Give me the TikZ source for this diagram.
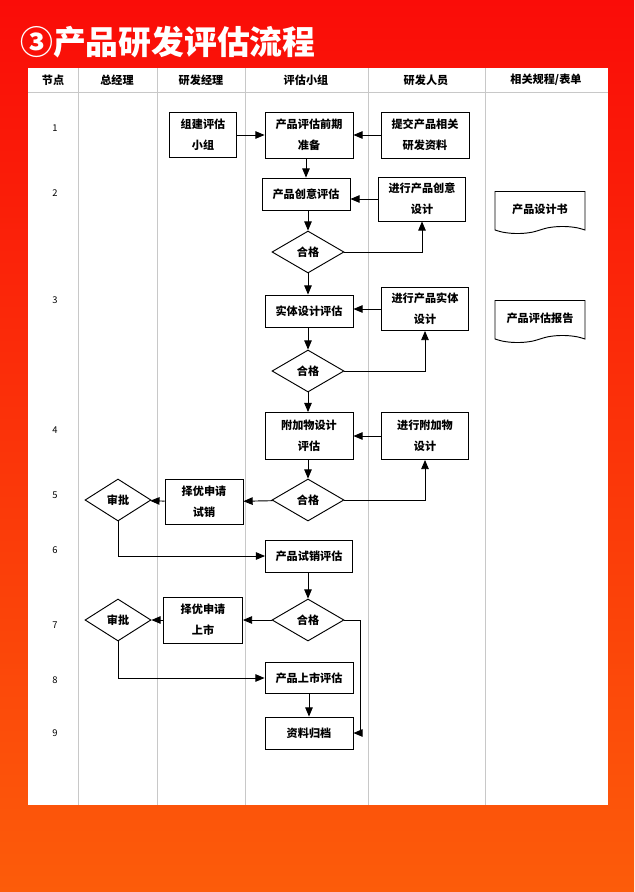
\documentclass[tikz,border=0pt]{standalone}
\usepackage{fontspec}
\setmainfont{Noto Sans CJK SC}
\usetikzlibrary{arrows, shapes.geometric, shapes.symbols}
\definecolor{bgred}{RGB}{250,12,8}
\definecolor{bgorange}{RGB}{252,92,10}
\definecolor{laneline}{RGB}{200,200,200}
\begin{document}
\begin{tikzpicture}[
            x = 0.03cm, y = -0.03cm,
            > = triangle 45, % arrow head style
            semithick, % line style
            font = \fontsize{9.5}{18}\selectfont\bfseries
        ]

        \tikzstyle{step box}=[draw = black, thick, fill = white, align = center, inner sep = 2pt]
        \tikzstyle{check}=[draw = black, thick, fill = white, diamond, aspect = 1.7, inner sep = 1pt, minimum width = 72*0.03cm, minimum height = 42*0.03cm]
        \tikzstyle{form}=[draw = black, thick, fill = white, tape, tape bend top = none, tape bend height = 6pt, minimum width = 90*0.03cm, minimum height = 42*0.03cm]
        \tikzstyle{flow}=[thick, ->]

        % background and panel
        \shade[top color = bgred, bottom color = bgorange] (0,0) rectangle (634,892);
        \fill[white] (28,68) rectangle (608,805);
        \node[white, anchor = west, font = \fontsize{28}{30}\selectfont\bfseries] (title) at (16,42) {③产品研发评估流程};

        % lanes
        \draw[laneline] (28,92) -- (608,92);
        \foreach \x in {78,157,245,368,485} \draw[laneline] (\x,68) -- (\x,805);
        \node (h0) at (53,80) {节点};
        \node (h1) at (117,80) {总经理};
        \node (h2) at (201,80) {研发经理};
        \node (h3) at (306,80) {评估小组};
        \node (h4) at (426,80) {研发人员};
        \node (h5) at (546,80) {相关规程/表单};
        \foreach \n/\y in {1/128,2/193,3/300,4/430,5/495,6/550,7/625,8/680,9/733}
            \node[font = \fontsize{8}{10}\selectfont] (n\n) at (55,\y) {\n};

        % steps
        \node[step box, minimum width = 67*0.03cm, minimum height = 45*0.03cm] (team) at (203,135) {组建评估\\小组};
        \node[step box, minimum width = 88*0.03cm, minimum height = 46*0.03cm] (prep) at (309,135) {产品评估前期\\准备};
        \node[step box, minimum width = 88*0.03cm, minimum height = 46*0.03cm] (submit) at (425,135) {提交产品相关\\研发资料};
        \node[step box, minimum width = 88*0.03cm, minimum height = 32*0.03cm] (idea) at (306,194) {产品创意评估};
        \node[step box, minimum width = 87*0.03cm, minimum height = 44*0.03cm] (ideadev) at (422,199) {进行产品创意\\设计};
        \node[check] (ok1) at (308,252) {合格};
        \node[step box, minimum width = 88*0.03cm, minimum height = 32*0.03cm] (body) at (309,311) {实体设计评估};
        \node[step box, minimum width = 87*0.03cm, minimum height = 43*0.03cm] (bodydev) at (425,309) {进行产品实体\\设计};
        \node[check] (ok2) at (308,371) {合格};
        \node[step box, minimum width = 88*0.03cm, minimum height = 47*0.03cm] (addon) at (309,436) {附加物设计\\评估};
        \node[step box, minimum width = 87*0.03cm, minimum height = 47*0.03cm] (addondev) at (425,436) {进行附加物\\设计};
        \node[check] (ok3) at (308,500) {合格};
        \node[step box, minimum width = 78*0.03cm, minimum height = 45*0.03cm] (applytry) at (204,502) {择优申请\\试销};
        \node[check, minimum width = 66*0.03cm] (approve1) at (118,500) {审批};
        \node[step box, minimum width = 87*0.03cm, minimum height = 32*0.03cm] (trial) at (309,556) {产品试销评估};
        \node[check] (ok4) at (308,620) {合格};
        \node[step box, minimum width = 79*0.03cm, minimum height = 46*0.03cm] (applylaunch) at (203,620) {择优申请\\上市};
        \node[check, minimum width = 66*0.03cm] (approve2) at (118,620) {审批};
        \node[step box, minimum width = 88*0.03cm, minimum height = 31*0.03cm] (launch) at (309,678) {产品上市评估};
        \node[step box, minimum width = 88*0.03cm, minimum height = 32*0.03cm] (archive) at (309,733) {资料归档};
        \node[form] (spec) at (540,209) {产品设计书};
        \node[form] (report) at (540,318) {产品评估报告};

        % connectors
        \draw[flow] (team) -- (prep);
        \draw[flow] (submit) -- (prep);
        \draw[flow] (prep.south -| idea) -- (idea);
        \draw[flow] (ideadev) -- (ideadev -| idea.east);
        \draw[flow] (idea.south -| ok1) -- (ok1);
        \draw[flow] (ok1.east) -| (ideadev.south);
        \draw[flow] (ok1) -- (ok1 |- body.north);
        \draw[flow] (bodydev) -- (bodydev -| body.east);
        \draw[flow] (body.south -| ok2) -- (ok2);
        \draw[flow] (ok2.east) -| (bodydev.south);
        \draw[flow] (ok2) -- (ok2 |- addon.north);
        \draw[flow] (addondev) -- (addon);
        \draw[flow] (addon.south -| ok3) -- (ok3);
        \draw[flow] (ok3.east) -| (addondev.south);
        \draw[flow] (ok3) -- (applytry);
        \draw[flow] (applytry) -- (approve1);
        \draw[flow] (approve1.south) |- (trial.west);
        \draw[flow] (trial.south -| ok4) -- (ok4);
        \draw[flow] (ok4) -- (applylaunch);
        \draw[flow] (applylaunch) -- (approve2);
        \draw[flow] (approve2.south) |- (launch.west);
        \draw[flow] (launch) -- (archive);
        \draw[flow] (ok4.east) -- (360,620) |- (archive.east);
    \end{tikzpicture}
\end{document}
